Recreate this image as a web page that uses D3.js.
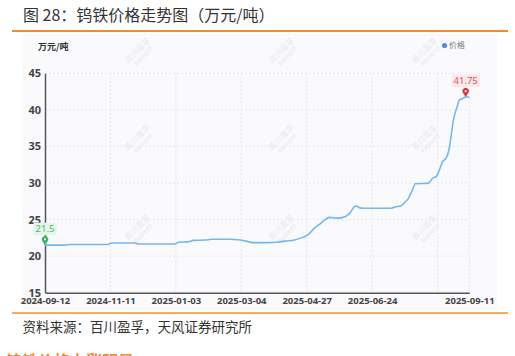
<!DOCTYPE html>
<html>
<head>
<meta charset="utf-8">
<script src="https://cdn.jsdelivr.net/npm/d3@7"></script>
<style>
  body { margin: 0; background: #fff; }
  svg { display: block; font-family: "Noto Sans CJK SC", "Noto Sans", sans-serif; }
</style>
</head>
<body>
<div id="chart"></div>
<script>
// 钨铁价格（万元/吨），读图估计
const dates = [
    "2024-09-12", "2024-09-30", "2024-10-05", "2024-11-09", "2024-11-12", "2024-12-01",
    "2024-12-04", "2025-01-02", "2025-01-06", "2025-01-14", "2025-01-19", "2025-01-30",
    "2025-02-05", "2025-02-21", "2025-03-03", "2025-03-08", "2025-03-13", "2025-03-27",
    "2025-04-02", "2025-04-09", "2025-04-17", "2025-04-24", "2025-04-28", "2025-05-04",
    "2025-05-08", "2025-05-13", "2025-05-17", "2025-05-24", "2025-05-31", "2025-06-04",
    "2025-06-08", "2025-06-10", "2025-06-13", "2025-06-16", "2025-07-09", "2025-07-13",
    "2025-07-17", "2025-07-21", "2025-07-23", "2025-07-26", "2025-07-29", "2025-08-08",
    "2025-08-10", "2025-08-12", "2025-08-15", "2025-08-18", "2025-08-20", "2025-08-23",
    "2025-08-25", "2025-08-27", "2025-08-29", "2025-09-01", "2025-09-03", "2025-09-05",
    "2025-09-08", "2025-09-11"
];
const prices = [
    21.5, 21.5, 21.6, 21.6, 21.8, 21.8,
    21.65, 21.65, 21.9, 21.95, 22.15, 22.2,
    22.3, 22.3, 22.2, 22.05, 21.85, 21.85,
    21.9, 22.05, 22.2, 22.6, 22.9, 23.85,
    24.3, 24.95, 25.3, 25.2, 25.4, 25.85,
    26.7, 26.85, 26.6, 26.55, 26.55, 26.75,
    26.85, 27.45, 27.8, 28.8, 29.9, 29.95,
    30.2, 30.65, 30.9, 32.0, 32.9, 33.4,
    34.3, 36.3, 38.6, 40.4, 41.4, 41.5,
    41.75, 41.75
];
// 类目轴刻度（2025-08-16 那条网格线没有标签）
const tickDates = ["2024-09-12", "2024-11-11", "2025-01-03", "2025-03-04", "2025-04-27", "2025-06-24", "2025-08-16", "2025-09-11"];
const tickSteps = [0, 1, 2, 3, 4, 5, 6, 6.485];
const hiddenTick = "2025-08-16";
const yTicks = [15, 20, 25, 30, 35, 40, 45];
const minPoint = { date: "2024-09-12", value: 21.5 };
const maxPoint = { date: "2025-09-08", value: 41.75 };

const width = 515, height = 356;
const plotLeft = 45, plotRight = 469.3, plotTop = 73.3, plotBottom = 292.7;
const parse = d3.timeParse("%Y-%m-%d");
const data = dates.map((d, i) => ({ date: parse(d), value: prices[i] }));

const svg = d3.select("#chart").append("svg")
    .attr("width", width)
    .attr("height", height);

// 标题 + 橙色分隔线
svg.append("text")
    .attr("x", 23).attr("y", 21)
    .style("font-size", "16px").style("fill", "#333")
    .text("图 28：钨铁价格走势图（万元/吨）");
svg.append("line")
    .attr("x1", 12).attr("x2", 508).attr("y1", 31).attr("y2", 31)
    .attr("stroke", "#f08c33").attr("stroke-width", 2);

// 图表底板
svg.append("rect")
    .attr("x", 22).attr("y", 33).attr("width", 475).attr("height", 278)
    .attr("fill", "#fafafc");

// 水印
const marks = [];
[140, 284, 427].forEach(mx => [53, 140, 230].forEach(my => marks.push([mx, my])));
const wm = svg.selectAll(".wm").data(marks).enter().append("g")
    .attr("transform", d => `translate(${d[0]},${d[1]}) rotate(-45)`);
wm.append("text").attr("text-anchor", "middle").attr("y", -1)
    .style("font-size", "8px").style("font-weight", "bold").style("fill", "#000").style("opacity", 0.05)
    .text("百川盈孚");
wm.append("text").attr("text-anchor", "middle").attr("y", 7)
    .style("font-size", "6px").style("font-weight", "bold").style("fill", "#000").style("opacity", 0.05)
    .text("BAIINFO");

const step = (plotRight - plotLeft) / tickSteps[tickSteps.length - 1];
const x = d3.scaleTime()
    .domain(tickDates.map(parse))
    .range(tickSteps.map(s => plotLeft + s * step));
const y = d3.scaleLinear().domain([15, 45]).range([plotBottom, plotTop]);

// 网格线
svg.append("g").selectAll("line")
    .data(yTicks.slice(1)).enter().append("line")
    .attr("x1", plotLeft).attr("x2", plotRight)
    .attr("y1", d => y(d)).attr("y2", d => y(d))
    .attr("stroke", "#e6e6ea").attr("stroke-dasharray", "2,2");
svg.append("g").selectAll("line")
    .data(tickDates.slice(1)).enter().append("line")
    .attr("x1", d => x(parse(d))).attr("x2", d => x(parse(d)))
    .attr("y1", plotTop).attr("y2", plotBottom)
    .attr("stroke", "#e6e6ea").attr("stroke-dasharray", "2,2");

// 坐标轴
const yAxis = svg.append("g")
    .attr("transform", `translate(${plotLeft},0)`)
    .call(d3.axisLeft(y).tickValues(yTicks).tickSize(0).tickPadding(4));
yAxis.select(".domain").attr("stroke", "#555").attr("stroke-width", 1.5);
yAxis.selectAll("text")
    .style("font-family", "Noto Sans, sans-serif").style("font-size", "11px")
    .style("font-weight", "bold").style("fill", "#444");

const xAxis = svg.append("g")
    .attr("transform", `translate(0,${plotBottom})`)
    .call(d3.axisBottom(x)
        .tickValues(tickDates.filter(d => d !== hiddenTick).map(parse))
        .tickFormat(d3.timeFormat("%Y-%m-%d"))
        .tickSize(0).tickPadding(5));
xAxis.select(".domain").attr("stroke", "#555").attr("stroke-width", 1.5);
xAxis.selectAll("text")
    .style("font-family", "Noto Sans, sans-serif").style("font-size", "9.5px")
    .style("font-weight", "bold").style("fill", "#444");

svg.append("text")
    .attr("x", 38).attr("y", 50)
    .style("font-size", "9px").style("font-weight", "bold").style("fill", "#333")
    .text("万元/吨");

// 图例
svg.append("circle").attr("cx", 444.5).attr("cy", 45.5).attr("r", 2.6).attr("fill", "#4a90e2");
svg.append("text")
    .attr("x", 449).attr("y", 48.3)
    .style("font-size", "8px").style("fill", "#777")
    .text("价格");

// 价格线
const line = d3.line()
    .x(d => x(d.date))
    .y(d => y(d.value))
    .curve(d3.curveMonotoneX);
svg.append("path")
    .datum(data)
    .attr("fill", "none")
    .attr("stroke", "#74b6ee")
    .attr("stroke-width", 1.6)
    .attr("d", line);

// 最小值 / 最大值标注
function pin(p, color, textColor, bg) {
    const px = x(parse(p.date)), py = y(p.value);
    svg.append("path")
        .attr("d", `M${px},${py} L${px - 2.6},${py - 4} A3.2,3.2 0 1,1 ${px + 2.6},${py - 4} Z`)
        .attr("fill", color);
    svg.append("circle").attr("cx", px).attr("cy", py - 5.9).attr("r", 1.1).attr("fill", "#fff");
    const g = svg.append("g");
    const rect = g.append("rect").attr("fill", bg);
    const t = g.append("text")
        .attr("x", px).attr("y", py - 13)
        .attr("text-anchor", "middle")
        .style("font-family", "Noto Sans, sans-serif").style("font-size", "9.5px")
        .style("fill", textColor)
        .text(p.value);
    const b = t.node().getBBox();
    rect.attr("x", b.x - 2).attr("y", b.y + 0.5).attr("width", b.width + 4).attr("height", b.height - 0.5);
}
pin(minPoint, "#3bb36a", "#4bb874", "#e6f5ea");
pin(maxPoint, "#d9363e", "#d9545a", "#fbe9ea");

// 底部来源
svg.append("line")
    .attr("x1", 12).attr("x2", 508).attr("y1", 313).attr("y2", 313)
    .attr("stroke", "#f08c33").attr("stroke-width", 1.5);
svg.append("text")
    .attr("x", 22.5).attr("y", 331.5)
    .style("font-size", "13.5px").style("fill", "#333")
    .text("资料来源：百川盈孚，天风证券研究所");
svg.append("text")
    .attr("x", 6).attr("y", 367)
    .style("font-size", "16px").style("font-weight", "bold").style("fill", "#f08c33")
    .text("钨铁价格上涨明显");
</script>
</body>
</html>
